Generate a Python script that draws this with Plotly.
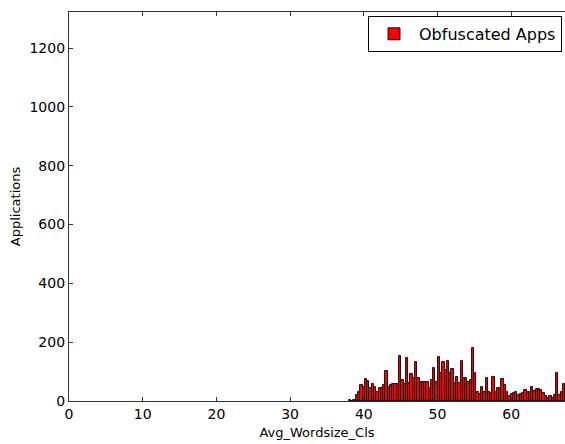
import plotly.graph_objects as go

# Histogram bins (Avg_Wordsize_Cls) and counts
bin_start = 37.98
bin_width = 0.309
counts = [3, 0, 4, 20, 32, 54, 49, 74, 68, 43, 57, 49, 32, 45, 45, 54, 103, 49, 54, 57,
          58, 58, 153, 71, 57, 147, 60, 91, 79, 131, 79, 63, 63, 63, 63, 45, 71, 113, 66, 151,
          94, 131, 105, 137, 94, 108, 60, 83, 60, 136, 79, 77, 63, 71, 181, 94, 32, 23, 49, 32,
          79, 32, 26, 80, 32, 43, 43, 74, 54, 32, 18, 23, 26, 29, 20, 24, 26, 37, 29, 32,
          49, 34, 41, 40, 37, 26, 18, 9, 17, 9, 20, 94, 20, 32, 57]
centers = [bin_start + bin_width * (i + 0.5) for i in range(len(counts))]

x_ticks = [0, 10, 20, 30, 40, 50, 60]
y_ticks = [0, 200, 400, 600, 800, 1000, 1200]

fig = go.Figure()
fig.add_trace(go.Bar(
    x=centers, y=counts, width=bin_width, name="Obfuscated Apps",
    marker=dict(color="#ff0000", line=dict(color="black", width=0.9)),
    showlegend=True,
))

axis_common = dict(
    showline=True, linecolor="#333333", linewidth=1.2,
    ticks="inside", ticklen=4, tickcolor="#333333",
    showgrid=False, zeroline=False,
    tickfont=dict(family="DejaVu Sans", size=14, color="black"),
)

fig.update_layout(
    width=565, height=444,
    margin=dict(l=69, r=0, t=12, b=43),
    plot_bgcolor="white", paper_bgcolor="white",
    bargap=0,
    font=dict(family="DejaVu Sans", size=13, color="black"),
    xaxis=dict(range=[0, 67.3], tickvals=x_ticks, mirror="ticks",
               title=dict(text="Avg_Wordsize_Cls", standoff=6, font=dict(size=13)),
               **axis_common),
    yaxis=dict(range=[0, 1323], tickvals=y_ticks, mirror=False,
               title=dict(text="Applications", standoff=5, font=dict(size=13)),
               **axis_common),
    legend=dict(x=0.994, xanchor="right", y=0.99, yanchor="top",
                bordercolor="black", borderwidth=1, bgcolor="white",
                font=dict(family="DejaVu Sans", size=16),
                itemwidth=40),
)

fig.write_html("out.html")
